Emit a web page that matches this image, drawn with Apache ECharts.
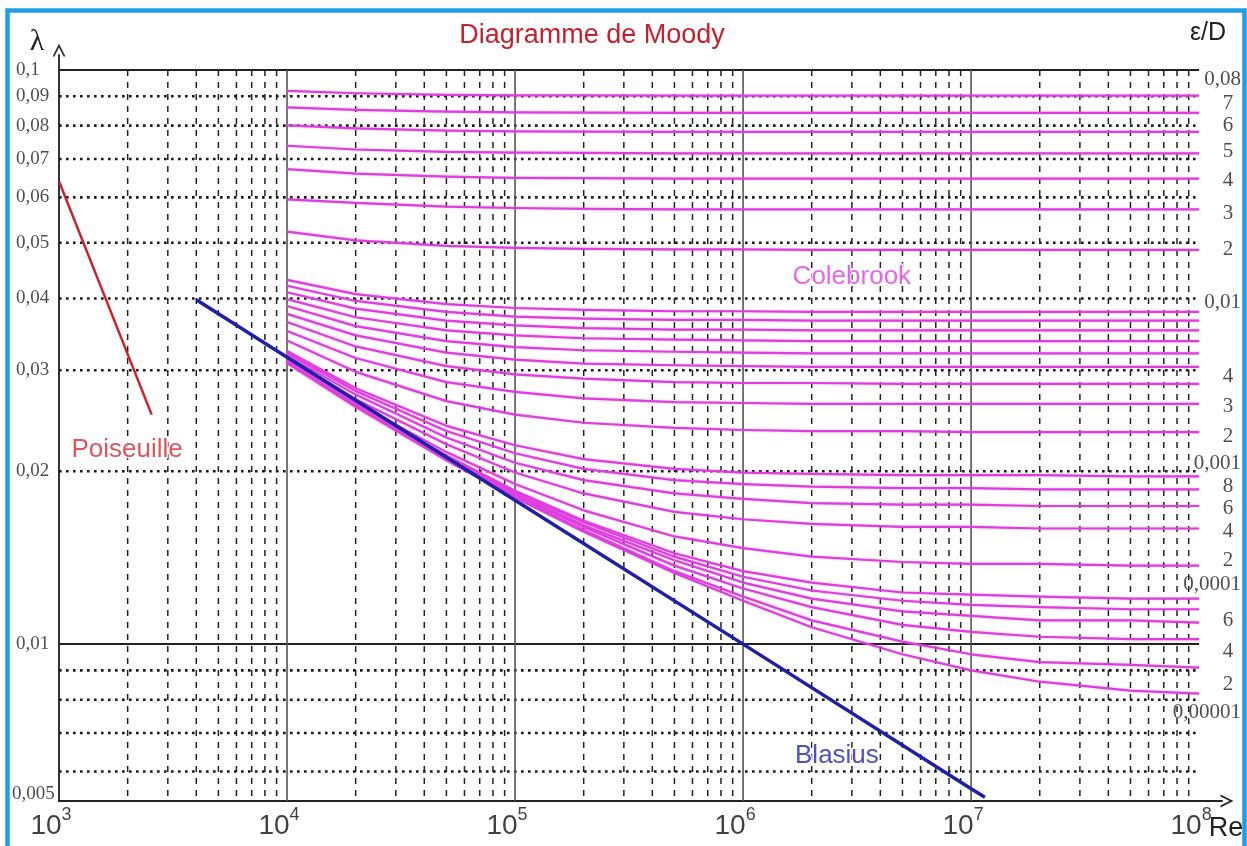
<!DOCTYPE html>
<html><head><meta charset="utf-8">
<script src="https://cdn.jsdelivr.net/npm/echarts@6/dist/echarts.min.js"></script>
<style>html,body{margin:0;padding:0;background:#fff}#c{width:1247px;height:846px}</style>
</head><body><div id="c"></div>
<script>
// ---------- DATA ----------
// Reynolds sample positions for the Colebrook curves
const reX = [1e4, 2e4, 5e4, 1e5, 2e5, 5e5, 1e6, 2e6, 5e6, 1e7, 2e7, 5e7, 1e8];
// Colebrook curves, lambda at each reX, one array per relative roughness eps/D
const cb_0_08    = [0.0920,0.0911,0.0905,0.0903,0.0903,0.0902,0.0902,0.0902,0.0902,0.0902,0.0902,0.0902,0.0902];
const cb_0_07    = [0.0861,0.0852,0.0846,0.0844,0.0843,0.0842,0.0842,0.0842,0.0842,0.0842,0.0842,0.0842,0.0842];
const cb_0_06    = [0.0801,0.0791,0.0784,0.0782,0.0781,0.0780,0.0780,0.0780,0.0780,0.0780,0.0780,0.0780,0.0780];
const cb_0_05    = [0.0738,0.0727,0.0720,0.0718,0.0717,0.0716,0.0716,0.0716,0.0716,0.0716,0.0716,0.0716,0.0716];
const cb_0_04    = [0.0672,0.0660,0.0652,0.0649,0.0648,0.0647,0.0647,0.0647,0.0647,0.0647,0.0647,0.0647,0.0647];
const cb_0_03    = [0.0595,0.0587,0.0578,0.0575,0.0573,0.0572,0.0572,0.0572,0.0572,0.0572,0.0572,0.0572,0.0572];
const cb_0_02    = [0.0523,0.0505,0.0494,0.0490,0.0488,0.0487,0.0487,0.0486,0.0486,0.0486,0.0486,0.0486,0.0486];
const cb_0_01    = [0.0431,0.0407,0.0391,0.0385,0.0382,0.0380,0.0380,0.0379,0.0379,0.0379,0.0379,0.0379,0.0379];
const cb_0_009   = [0.0421,0.0396,0.0379,0.0372,0.0369,0.0367,0.0367,0.0366,0.0366,0.0366,0.0366,0.0366,0.0366];
const cb_0_008   = [0.0410,0.0384,0.0366,0.0359,0.0355,0.0353,0.0353,0.0352,0.0352,0.0352,0.0352,0.0352,0.0352];
const cb_0_007   = [0.0399,0.0371,0.0352,0.0345,0.0341,0.0339,0.0338,0.0337,0.0337,0.0337,0.0337,0.0337,0.0337];
const cb_0_006   = [0.0388,0.0358,0.0337,0.0329,0.0325,0.0323,0.0322,0.0321,0.0321,0.0321,0.0321,0.0321,0.0321];
const cb_0_005   = [0.0376,0.0345,0.0322,0.0313,0.0308,0.0306,0.0305,0.0304,0.0304,0.0304,0.0304,0.0304,0.0304];
const cb_0_004   = [0.0364,0.0330,0.0305,0.0295,0.0290,0.0286,0.0285,0.0285,0.0284,0.0284,0.0284,0.0284,0.0284];
const cb_0_003   = [0.0351,0.0315,0.0286,0.0275,0.0268,0.0264,0.0263,0.0262,0.0262,0.0262,0.0262,0.0262,0.0262];
const cb_0_002   = [0.0338,0.0298,0.0265,0.0251,0.0243,0.0238,0.0236,0.0235,0.0235,0.0234,0.0234,0.0234,0.0234];
const cb_0_001   = [0.0324,0.0279,0.0240,0.0222,0.0210,0.0202,0.0199,0.0198,0.0197,0.0197,0.0197,0.0196,0.0196];
const cb_0_0008  = [0.0321,0.0276,0.0235,0.0215,0.0202,0.0193,0.0190,0.0188,0.0187,0.0187,0.0186,0.0186,0.0186];
const cb_0_0006  = [0.0318,0.0272,0.0229,0.0207,0.0193,0.0183,0.0179,0.0176,0.0175,0.0175,0.0174,0.0174,0.0174];
const cb_0_0004  = [0.0315,0.0267,0.0223,0.0199,0.0183,0.0170,0.0165,0.0162,0.0160,0.0160,0.0159,0.0159,0.0159];
const cb_0_0002  = [0.0312,0.0263,0.0216,0.0190,0.0171,0.0154,0.0147,0.0142,0.0139,0.0138,0.0138,0.0137,0.0137];
const cb_0_0001  = [0.0310,0.0261,0.0213,0.0185,0.0164,0.0144,0.0134,0.0128,0.0123,0.0122,0.0121,0.0120,0.0120];
const cb_0_00008 = [0.0310,0.0261,0.0212,0.0184,0.0163,0.0142,0.0131,0.0124,0.0119,0.0117,0.0116,0.0115,0.0115];
const cb_0_00006 = [0.0310,0.0260,0.0211,0.0183,0.0161,0.0140,0.0128,0.0120,0.0114,0.0112,0.0110,0.0110,0.0109];
const cb_0_00004 = [0.0310,0.0260,0.0210,0.0182,0.0160,0.0137,0.0125,0.0116,0.0108,0.0105,0.0103,0.0102,0.0102];
const cb_0_00002 = [0.0310,0.0260,0.0210,0.0181,0.0158,0.0134,0.0121,0.0110,0.0101,0.0096,0.0093,0.0092,0.0091];
const cb_0_00001 = [0.0309,0.0259,0.0209,0.0180,0.0157,0.0133,0.0119,0.0107,0.0096,0.0090,0.0086,0.0083,0.0082];
const colebrookCurves = [cb_0_08,cb_0_07,cb_0_06,cb_0_05,cb_0_04,cb_0_03,cb_0_02,cb_0_01,cb_0_009,cb_0_008,
  cb_0_007,cb_0_006,cb_0_005,cb_0_004,cb_0_003,cb_0_002,cb_0_001,cb_0_0008,cb_0_0006,cb_0_0004,cb_0_0002,
  cb_0_0001,cb_0_00008,cb_0_00006,cb_0_00004,cb_0_00002,cb_0_00001];

// Blasius (smooth pipe) and Poiseuille (laminar) lines
const blasiusRe = [4000, 1e4, 1e5, 1e6, 1e7, 1.15e7];
const blasiusLambda = [0.0398, 0.0316, 0.0178, 0.0100, 0.0056, 0.00541];
const poiseuilleRe = [1000, 2550];
const poiseuilleLambda = [0.064, 0.0251];

// Grid / tick values
const yDotted = [0.09,0.08,0.07,0.06,0.05,0.04,0.03,0.02,0.009,0.008,0.007,0.006];
const ySolid = [0.1, 0.01];
const xSolid = [1e4, 1e5, 1e6, 1e7];
const xDashed = [2e3,3e3,4e3,5e3,6e3,7e3,8e3,9e3, 2e4,3e4,4e4,5e4,6e4,7e4,8e4,9e4,
  2e5,3e5,4e5,5e5,6e5,7e5,8e5,9e5, 2e6,3e6,4e6,5e6,6e6,7e6,8e6,9e6, 2e7,3e7,4e7,5e7,6e7,7e7,8e7,9e7];
const yTickValues = [0.1,0.09,0.08,0.07,0.06,0.05,0.04,0.03,0.02,0.01];
const yTickLabels = ['0,1','0,09','0,08','0,07','0,06','0,05','0,04','0,03','0,02','0,01'];
const xTickValues = [1e3, 1e4, 1e5, 1e6, 1e7, 1e8];
const xTickExps = ['3','4','5','6','7','8'];
// eps/D labels on the right edge
const rightLabels = ['0,08','7','6','5','4','3','2','0,01','4','3','2','0,001','8','6','4','2','0,0001','6','4','2','0,00001'];
const rightLabelLambda = [0.0961,0.0876,0.0799,0.0720,0.0641,0.0563,0.0486,0.0394,0.0293,0.0259,0.0230,0.0206,0.0188,0.0172,0.0157,0.0140,0.0127,0.0110,0.0097,0.0085,0.0076];

// Axis extents
const X_MIN = 1e3, X_MAX = 1.26e8, Y_MIN = 0.00533, Y_MAX = 0.1062;
const GRID_X_END = 1e8, GRID_Y_TOP = 0.1;

// ---------- CHART ----------
const chart = echarts.init(document.getElementById('c'), null, {renderer: 'canvas'});
const series = [];
function addLine(data, style, z) {
  series.push({type: 'line', data: data, symbol: 'none', silent: true, animation: false,
    lineStyle: style, z: z, clip: false});
}
const dark = '#1a1a1a';
yDotted.forEach(v => addLine([[X_MIN, v], [GRID_X_END, v]], {color: dark, width: 2.6, type: [2.6, 4.4], cap: 'butt'}, 1));
ySolid.forEach(v => addLine([[X_MIN, v], [GRID_X_END, v]], {color: '#222', width: 2}, 1));
xDashed.forEach(v => addLine([[v, GRID_Y_TOP], [v, Y_MIN]], {color: '#222', width: 1.5, type: [6, 6]}, 1));
xSolid.forEach(v => addLine([[v, GRID_Y_TOP], [v, Y_MIN]], {color: '#555', width: 1.6}, 1));

colebrookCurves.forEach(arr => {
  series.push({type: 'line', data: reX.map((x, i) => [x, arr[i]]), symbol: 'none', smooth: false,
    silent: true, animation: false, z: 3,
    lineStyle: {color: '#de3ede', width: 2.2, join: 'round', shadowColor: 'rgba(230,90,230,0.5)', shadowBlur: 2}});
});
series.push({type: 'line', data: blasiusRe.map((x, i) => [x, blasiusLambda[i]]), symbol: 'none',
  silent: true, animation: false, z: 4, lineStyle: {color: '#1f1fa8', width: 3.5}});
series.push({type: 'line', data: poiseuilleRe.map((x, i) => [x, poiseuilleLambda[i]]), symbol: 'none',
  silent: true, animation: false, z: 4, lineStyle: {color: '#c8242c', width: 2.5}});

// Left tick labels
const yLabelData = yTickValues.map((v, i) => ({value: [X_MIN, v], label: {formatter: yTickLabels[i]}}));
yLabelData.push({value: [X_MIN, Y_MIN], label: {formatter: '0,005', offset: [-47, -7]}});
series.push({type: 'scatter', symbolSize: 0, silent: true, animation: false, clip: false, z: 5, data: yLabelData,
  label: {show: true, position: 'left', distance: 0, align: 'left', offset: [-43, 0],
    fontFamily: 'Liberation Serif', fontSize: 19, color: '#222'}});

// Bottom tick labels 10^n
series.push({type: 'scatter', symbolSize: 0, silent: true, animation: false, clip: false, z: 5,
  data: xTickValues.map((v, i) => ({value: [v, Y_MIN], label: {formatter: '{b|10}{s|' + xTickExps[i] + '}'}})),
  label: {show: true, position: 'bottom', distance: 5, offset: [-8, 0], color: '#111',
    rich: {b: {fontFamily: 'Liberation Sans', fontSize: 28, lineHeight: 34, verticalAlign: 'bottom', color: '#111'},
           s: {fontFamily: 'Liberation Sans', fontSize: 18, lineHeight: 17, verticalAlign: 'top', color: '#111'}}}});

// Right eps/D labels
series.push({type: 'scatter', symbolSize: 0, silent: true, animation: false, clip: false, z: 5,
  data: rightLabels.map((t, i) => {
    const single = t.length === 1;
    return {value: [GRID_X_END, rightLabelLambda[i]],
      label: {formatter: t, align: single ? 'center' : 'right', offset: single ? [29, 0] : [42, 0]}};
  }),
  label: {show: true, position: 'right', distance: 0, fontFamily: 'Liberation Serif', fontSize: 21, color: '#222'}});

// In-plot annotations
const annText = ['Colebrook', 'Poiseuille', 'Blasius'];
const annPos = [[3.0e6, 0.0436], [1990, 0.0218], [2.58e6, 0.0064]];
const annColor = ['#e040e0', '#d42a35', '#2323b0'];
series.push({type: 'scatter', symbolSize: 0, silent: true, animation: false, clip: false, z: 6,
  data: annText.map((t, i) => ({value: annPos[i], label: {formatter: t, color: annColor[i]}})),
  label: {show: true, position: 'inside', fontFamily: 'Liberation Sans', fontSize: 26,
    textBorderColor: '#fff', textBorderWidth: 3}});

const chevron = 'path://M0,12 L6,0 L12,12 L10.2,12 L6,3.6 L1.8,12 Z';
chart.setOption({
  animation: false,
  backgroundColor: '#fff',
  grid: {left: 59, right: 25, top: 55, bottom: 45},
  xAxis: {type: 'log', logBase: 10, min: X_MIN, max: X_MAX,
    axisLine: {show: true, lineStyle: {color: '#222', width: 2}, symbol: ['none', chevron], symbolSize: [13, 14], symbolOffset: [0, 5]},
    axisTick: {show: false}, axisLabel: {show: false}, splitLine: {show: false}},
  yAxis: {type: 'log', logBase: 10, min: Y_MIN, max: Y_MAX,
    axisLine: {show: true, lineStyle: {color: '#333', width: 2}, symbol: ['none', chevron], symbolSize: [13, 14], symbolOffset: [0, 5]},
    axisTick: {show: false}, axisLabel: {show: false}, splitLine: {show: false}},
  series: series,
  graphic: [
    {type: 'rect', shape: {x: 7.5, y: 10.5, width: 1237, height: 900}, style: {fill: 'none', stroke: '#1c9fe6', lineWidth: 4.5}, z: 100},
    {type: 'text', x: 592, y: 36, style: {text: 'Diagramme de Moody', fontFamily: 'Liberation Sans', fontSize: 27, fill: '#c8202c', align: 'center', verticalAlign: 'middle'}},
    {type: 'text', x: 37, y: 42, style: {text: 'λ', fontFamily: 'Liberation Serif', fontSize: 30, fill: '#222', align: 'center', verticalAlign: 'middle'}},
    {type: 'text', x: 1208, y: 33, style: {text: 'ε/D', fontFamily: 'Liberation Sans', fontSize: 25, fill: '#222', align: 'center', verticalAlign: 'middle'}},
    {type: 'text', x: 1226, y: 829, style: {text: 'Re', fontFamily: 'Liberation Sans', fontSize: 27, fill: '#222', align: 'center', verticalAlign: 'middle'}}
  ]
});
</script></body></html>
